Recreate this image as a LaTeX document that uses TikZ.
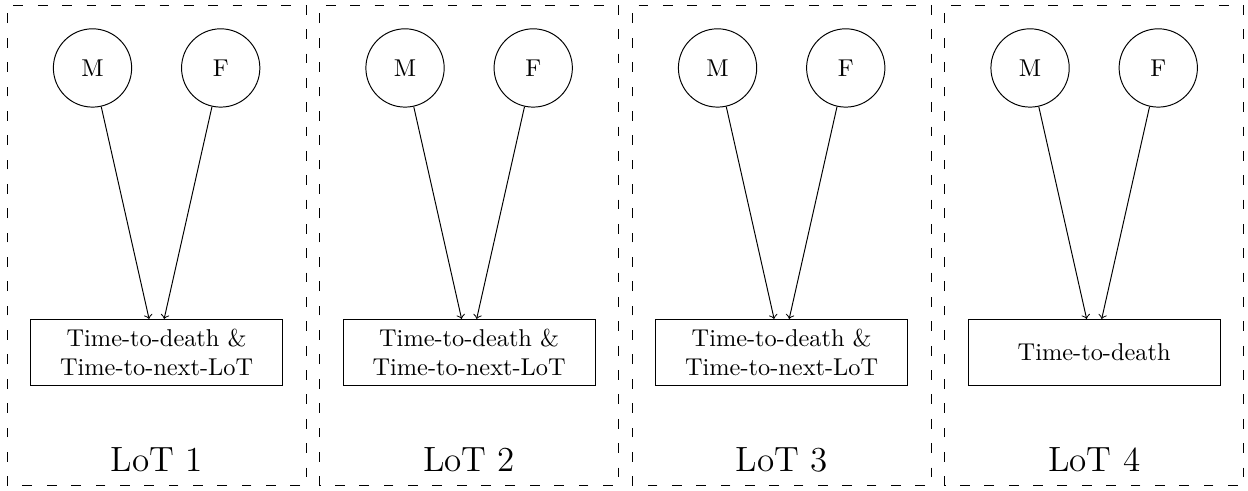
\documentclass[tikz,border=0pt]{standalone}
\usepackage{xcolor}
\usepackage{tikz}
\usetikzlibrary{arrows,calc}

\begin{document}
\begin{tikzpicture}[
    parent/.style={draw, circle, minimum size=1.13cm},
    outcome/.style={draw, rectangle, text width=3.4cm, align=center, minimum height=0.95cm},
    lotbox/.style={draw, dash pattern=on 4pt off 6pt}
  ]
    \useasboundingbox (0, 0) rectangle (18.01, 7.085);

    \foreach \i/\txt in {1/{Time-to-death \&\\ Time-to-next-LoT},
                         2/{Time-to-death \&\\ Time-to-next-LoT},
                         3/{Time-to-death \&\\ Time-to-next-LoT},
                         4/{Time-to-death}} {
      \pgfmathsetmacro{\cx}{2.26 + 4.51*(\i - 1)}

      % Draw the dashed frame of one line of therapy
      \draw[lotbox] (\cx - 2.157, 0.072) rectangle (\cx + 2.157, 7.01);

      % Parents and outcome
      \node[parent] (M\i) at (\cx - 0.925, 6.104) {M};
      \node[parent] (F\i) at (\cx + 0.925, 6.104) {F};
      \node[outcome] (out\i) at (\cx, 2.0) {\txt};

      % Draw the arrows
      \draw[->] (M\i) -- (out\i);
      \draw[->] (F\i) -- (out\i);

      % Add label
      \node[anchor=base] (lot\i) at (\cx, 0.274) {\Large LoT \i};
    }
\end{tikzpicture}
\end{document}
